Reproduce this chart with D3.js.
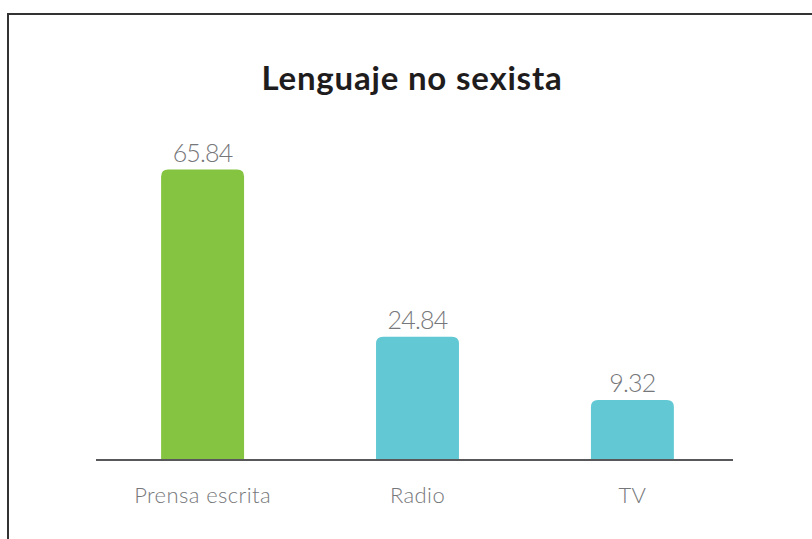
<!DOCTYPE html>
<html>
<head>
<meta charset="utf-8">
<script src="https://cdn.jsdelivr.net/npm/d3@7"></script>
<style>
  html, body { margin: 0; padding: 0; background: #fff; }
  svg { display: block; }
</style>
</head>
<body>
<svg id="chart" width="812" height="539"></svg>
<script>
// Chart data
const title = "Lenguaje no sexista";
const categories = ["Prensa escrita", "Radio", "TV"];
const values = [65.84, 24.84, 9.32];
const valueLabels = ["65.84", "24.84", "9.32"];
const barColors = ["#84c441", "#62c9d4", "#62c9d4"];

const svg = d3.select("#chart");
const W = 812, H = 539;

// Frame around the chart (runs past the right and bottom edges)
svg.append("rect")
  .attr("x", 8).attr("y", 14)
  .attr("width", W).attr("height", H)
  .attr("fill", "none")
  .attr("stroke", "#333")
  .attr("stroke-width", 2);

// Title
svg.append("text")
  .attr("x", 412).attr("y", 90)
  .attr("text-anchor", "middle")
  .attr("font-family", "Lato, 'Noto Sans', sans-serif")
  .attr("font-weight", 700)
  .attr("font-size", 33)
  .attr("letter-spacing", 0.8)
  .attr("fill", "#1f1c1d")
  .text(title);

const baseY = 460;
const axisLeft = 96, axisRight = 733;

const x = d3.scaleBand()
  .domain(categories)
  .range([99, 736])
  .paddingInner(0.614)
  .paddingOuter(0.289);

const y = d3.scaleLinear()
  .domain([-5.4, 65.84])
  .range([baseY, 169.5]);

const r = 7;
function barPath(x0, y0, w, h) {
  const rr = Math.min(r, h, w / 2);
  return `M${x0},${y0 + h}V${y0 + rr}Q${x0},${y0} ${x0 + rr},${y0}` +
         `H${x0 + w - rr}Q${x0 + w},${y0} ${x0 + w},${y0 + rr}V${y0 + h}Z`;
}

const data = categories.map((c, i) => ({ c, v: values[i], label: valueLabels[i], color: barColors[i] }));

svg.selectAll("path.bar")
  .data(data)
  .join("path")
  .attr("class", "bar")
  .attr("fill", d => d.color)
  .attr("d", d => barPath(x(d.c), y(d.v), x.bandwidth(), baseY - y(d.v)));

// Baseline
svg.append("line")
  .attr("x1", axisLeft).attr("x2", axisRight)
  .attr("y1", baseY).attr("y2", baseY)
  .attr("stroke", "#58585a")
  .attr("stroke-width", 2);

// Value labels
svg.selectAll("text.val")
  .data(data)
  .join("text")
  .attr("class", "val")
  .attr("x", d => x(d.c) + x.bandwidth() / 2)
  .attr("y", d => y(d.v) - 8)
  .attr("text-anchor", "middle")
  .attr("font-family", "Lato, 'Noto Sans', sans-serif")
  .attr("font-weight", 300)
  .attr("font-size", 25)
  .attr("letter-spacing", -0.8)
  .attr("fill", "#76777a")
  .text(d => d.label);

// Category labels
svg.selectAll("text.cat")
  .data(data)
  .join("text")
  .attr("class", "cat")
  .attr("x", d => x(d.c) + x.bandwidth() / 2)
  .attr("y", 503)
  .attr("text-anchor", "middle")
  .attr("font-family", "Lato, 'Noto Sans', sans-serif")
  .attr("font-weight", 300)
  .attr("font-size", 22)
  .attr("letter-spacing", 0.4)
  .attr("fill", "#76777a")
  .text(d => d.c);
</script>
</body>
</html>
